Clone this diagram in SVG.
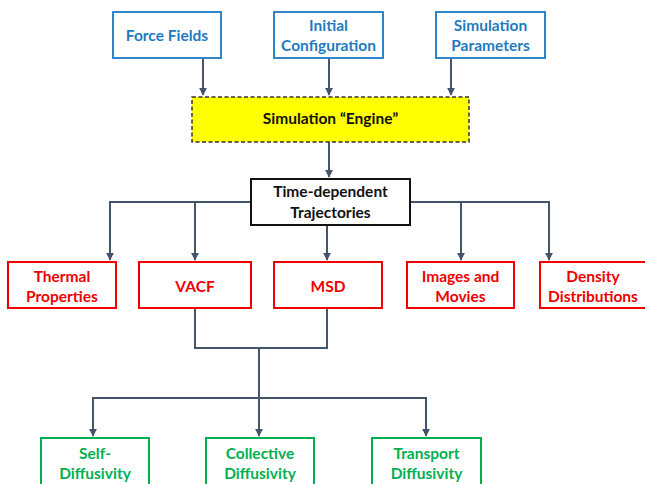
<svg xmlns="http://www.w3.org/2000/svg" width="645" height="484" viewBox="0 0 645 484">
<defs>
<marker id="ah" viewBox="0 0 10 10" refX="9" refY="5" markerWidth="4" markerHeight="4" orient="auto" markerUnits="strokeWidth">
<path d="M0,0 L10,5 L0,10 z" fill="#44546A"/>
</marker>
<style>
.t{font-family:Lato,"Open Sans","Liberation Sans",sans-serif;font-weight:bold;font-size:15.5px;text-anchor:middle;dominant-baseline:central}
.blue rect{fill:#fff;stroke:#2E86C8;stroke-width:2}
.blue text{fill:#1F7BC0}
.red rect{fill:#fff;stroke:#F00000;stroke-width:2}
.red text{fill:#F00000}
.green rect{fill:#fff;stroke:#00B050;stroke-width:2}
.green text{fill:#00B050}
.conn path{fill:none;stroke:#44546A;stroke-width:2}
</style>
</defs>
<rect width="645" height="484" fill="#fff"/>
<g class="conn">
<path d="M203,58 V95" marker-end="url(#ah)"/>
<path d="M329,58 V95" marker-end="url(#ah)"/>
<path d="M451,58 V95" marker-end="url(#ah)"/>
<path d="M329,142 V177" marker-end="url(#ah)"/>
<path d="M251,202 H110 V260" marker-end="url(#ah)"/>
<path d="M195,202 V260" marker-end="url(#ah)"/>
<path d="M327,225 V260" marker-end="url(#ah)"/>
<path d="M410,202 H549 V260" marker-end="url(#ah)"/>
<path d="M461,202 V260" marker-end="url(#ah)"/>
<path d="M195,308 V348 H327 V308"/>
<path d="M259,348 V436" marker-end="url(#ah)"/>
<path d="M259,398 H93 V436" marker-end="url(#ah)"/>
<path d="M259,398 H426 V436" marker-end="url(#ah)"/>
</g>
<g id="force-fields" class="blue"><rect x="113" y="12" width="108" height="46"/><text class="t" x="167" y="35">Force Fields</text></g>
<g id="initial-configuration" class="blue"><rect x="274" y="12" width="109" height="46"/><text class="t" x="328.5" y="25">Initial</text><text class="t" x="328.5" y="45">Configuration</text></g>
<g id="simulation-parameters" class="blue"><rect x="436" y="12" width="109" height="46"/><text class="t" x="490.5" y="25">Simulation</text><text class="t" x="490.5" y="45">Parameters</text></g>
<g id="engine"><rect x="192" y="97" width="277" height="45" fill="#FFFF00" stroke="#333" stroke-width="1.5" stroke-dasharray="4,2.5"/><text class="t" x="330.5" y="118" fill="#111">Simulation “Engine”</text></g>
<g id="trajectories"><rect x="251" y="179" width="159" height="46" fill="#fff" stroke="#111" stroke-width="2"/><text class="t" x="330.5" y="191" fill="#111">Time-dependent</text><text class="t" x="330.5" y="212" fill="#111">Trajectories</text></g>
<g id="thermal" class="red"><rect x="8" y="262" width="108" height="46"/><text class="t" x="62" y="276">Thermal</text><text class="t" x="62" y="296">Properties</text></g>
<g id="vacf" class="red"><rect x="139" y="262" width="112" height="46"/><text class="t" x="195" y="286">VACF</text></g>
<g id="msd" class="red"><rect x="274" y="262" width="108" height="46"/><text class="t" x="328" y="286">MSD</text></g>
<g id="images" class="red"><rect x="407" y="262" width="107" height="46"/><text class="t" x="460.5" y="276">Images and</text><text class="t" x="460.5" y="296">Movies</text></g>
<g id="density" class="red"><rect x="540" y="262" width="106" height="46"/><text class="t" x="593" y="276">Density</text><text class="t" x="593" y="296">Distributions</text></g>
<g id="self" class="green"><rect x="41" y="438" width="108" height="60"/><text class="t" x="95" y="453">Self-</text><text class="t" x="95" y="473">Diffusivity</text></g>
<g id="collective" class="green"><rect x="206" y="438" width="108" height="60"/><text class="t" x="260" y="453">Collective</text><text class="t" x="260" y="473">Diffusivity</text></g>
<g id="transport" class="green"><rect x="372" y="438" width="109" height="60"/><text class="t" x="426.5" y="453">Transport</text><text class="t" x="426.5" y="473">Diffusivity</text></g>
</svg>
